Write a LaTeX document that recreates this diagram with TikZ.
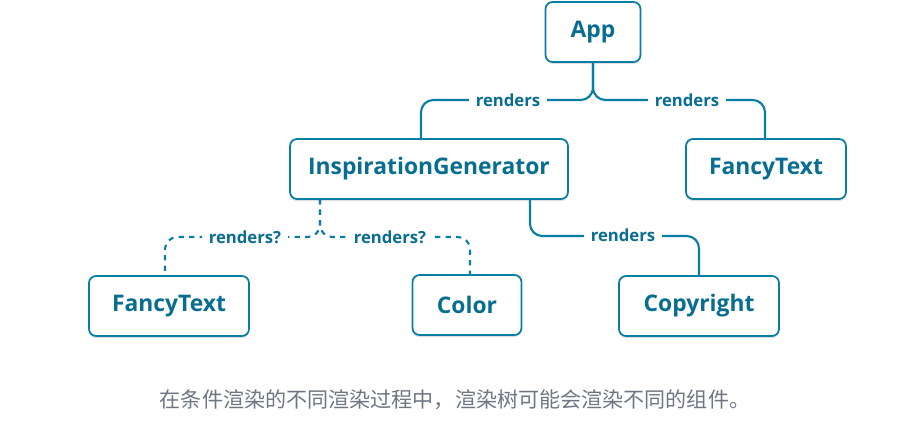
\documentclass[tikz,border=0pt]{standalone}
\usepackage{fontspec}
\setmainfont{Open Sans}
\newfontfamily\cjk{Noto Sans CJK SC}
\usetikzlibrary{positioning,shadows}
\definecolor{tealLine}{RGB}{8,126,164}
\definecolor{tealText}{RGB}{8,110,145}
\definecolor{grisCap}{RGB}{110,118,130}
\tikzset{
  comp/.style={draw=tealLine, line width=1pt, rounded corners=4pt, fill=white,
               text=tealText, font=\fontsize{13}{15}\selectfont\bfseries,
               minimum height=1.2cm, inner sep=0pt,
               drop shadow={shadow xshift=0pt, shadow yshift=-1.2pt, opacity=0.25}},
  rel/.style={draw=tealLine, line width=1.2pt, rounded corners=7pt},
  drel/.style={rel, dashed, dash pattern=on 3pt off 3pt},
  lbl/.style={fill=white, text=tealText, font=\fontsize{9.5}{11}\selectfont\bfseries,
              inner xsep=4pt, inner ysep=2pt}
}
\begin{document}
\begin{tikzpicture}[x=0.02cm,y=-0.02cm]
    \useasboundingbox (0,0) rectangle (909,423);

    \node (app)   [comp, minimum width=1.9cm] at (593,32) {App};
    \node (gen)   [comp, minimum width=5.56cm] at (429,169) {InspirationGenerator};
    \node (fancyR)[comp, minimum width=3.2cm] at (766,169) {FancyText};
    \node (fancyL)[comp, minimum width=3.2cm] at (169,306) {FancyText};
    \node (color) [comp, minimum width=2.18cm] at (467,305) {Color};
    \node (copy)  [comp, minimum width=3.2cm] at (699,306) {Copyright};

    % App renders
    \draw [rel] (app.south) -- (593,100) -| (421,138);
    \draw [rel] (app.south) -- (593,100) -| (765,138);
    \node (l1) [lbl] at (508,100) {renders};
    \node (l2) [lbl] at (687,100) {renders};

    % conditional renders
    \draw [drel] (320,199) -- (320,237) -| (165,275);
    \draw [drel] (320,199) -- (320,237) -| (470,274);
    \node (l3) [lbl] at (245,237) {renders?};
    \node (l4) [lbl] at (390,237) {renders?};

    \draw [rel] (530,199) -- (530,236) -| (699,275);
    \node (l5) [lbl] at (623,235) {renders};

    \node (cap) [text=grisCap, font=\cjk\fontsize{12}{14}\selectfont] at (455,400)
        {在条件渲染的不同渲染过程中，渲染树可能会渲染不同的组件。};
\end{tikzpicture}
\end{document}
